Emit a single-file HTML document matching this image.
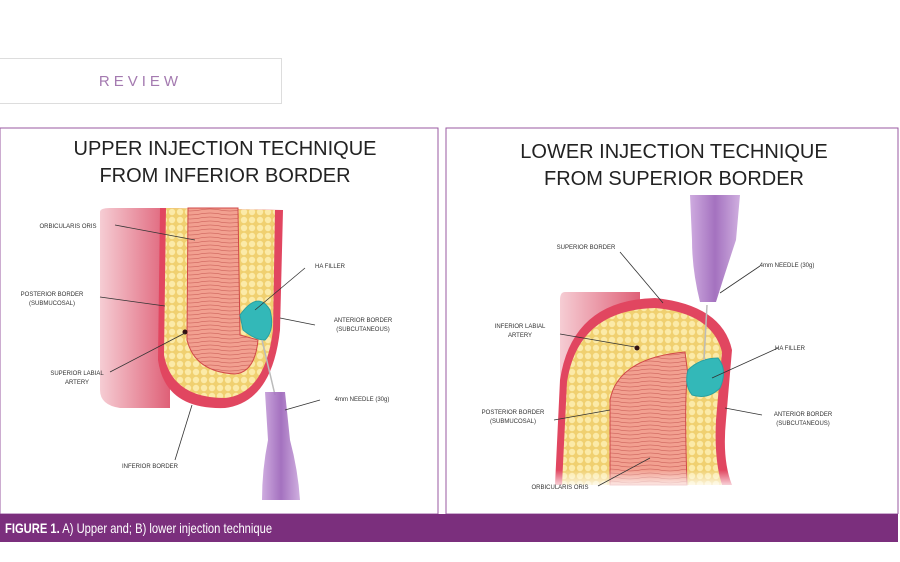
<!DOCTYPE html>
<html><head><style>
body{margin:0;width:900px;height:562px;background:#fff;position:relative;overflow:hidden;font-family:"Liberation Sans",sans-serif}
.rev{position:absolute;left:-1px;top:58px;width:283px;height:46px;border:1px solid #ddd;box-sizing:border-box;color:#a47ab0;font-size:15px;letter-spacing:4px;text-align:center;line-height:46px}
.cap{position:absolute;left:0;top:514px;width:898px;height:28px;background:#7b2f7d;color:#fff;font-size:14px;line-height:28px;padding-left:5px;box-sizing:border-box}
.cap span{display:inline-block;transform:scaleX(.8);transform-origin:left}
</style></head><body>
<div class="rev">REVIEW</div>
<svg width="900" height="514" style="position:absolute;left:0;top:0" font-family="Liberation Sans, sans-serif">
<defs>
<linearGradient id="pk" x1="0" x2="1"><stop offset="0" stop-color="#f4c4cc"/><stop offset="1" stop-color="#d9445f"/></linearGradient>
<pattern id="fat" width="8" height="8" patternUnits="userSpaceOnUse"><rect width="8" height="8" fill="#f0d070"/><circle cx="4" cy="4" r="3.2" fill="#fbeaa8"/></pattern>
<pattern id="mus" width="40" height="4" patternUnits="userSpaceOnUse"><rect width="40" height="4" fill="#f2a090"/><path d="M0,2 Q10,0 20,2 T40,2" stroke="#c65550" stroke-width=".6" fill="none"/></pattern>
<linearGradient id="nd" x1="0" x2="1"><stop offset="0" stop-color="#c9a2dc"/><stop offset=".5" stop-color="#9a62b8"/><stop offset="1" stop-color="#caa6dc"/></linearGradient>
<linearGradient id="fade" x1="0" y1="0" x2="0" y2="1"><stop offset="0" stop-color="#fff" stop-opacity="0"/><stop offset="1" stop-color="#fff" stop-opacity="1"/></linearGradient>
</defs>
<rect x="0" y="128" width="438" height="386" fill="#fff" stroke="#9a5aa0" stroke-width="1"/>
<rect x="446" y="128" width="452" height="386" fill="#fff" stroke="#9a5aa0" stroke-width="1"/>
<g font-size="20" fill="#222" text-anchor="middle">
<text x="225" y="155">UPPER INJECTION TECHNIQUE</text>
<text x="225" y="182">FROM INFERIOR BORDER</text>
<text x="674" y="158">LOWER INJECTION TECHNIQUE</text>
<text x="674" y="185">FROM SUPERIOR BORDER</text>
</g>
<!-- left illustration -->
<path d="M100,212 Q100,208 110,208 L170,208 L170,408 L120,408 Q100,405 100,390 Z" fill="url(#pk)" opacity=".85"/>
<path d="M160,208 L158,360 Q165,410 225,408 Q272,402 280,330 L283,210 Z" fill="#e14660"/>
<path d="M166,208 L164,355 Q172,398 225,398 Q265,394 273,330 L275,210 Z" fill="url(#fat)"/>
<path d="M188,208 L187,340 Q195,372 235,374 Q255,372 258,340 L240,335 L238,208 Z" fill="url(#mus)" stroke="#d04848" stroke-width="1"/>
<path d="M240,315 Q258,290 270,310 Q275,330 265,340 Q255,340 243,330 Z" fill="#33b8b8" stroke="#2aa0a0"/>
<circle cx="185" cy="332" r="2.5" fill="#311"/>
<line x1="262" y1="340" x2="275" y2="395" stroke="#bbb" stroke-width="1.5"/>
<path d="M265,392 L285,392 L290,440 Q298,470 300,500 L262,500 Q262,470 268,440 Z" fill="url(#nd)" opacity=".9"/>
<!-- right illustration -->
<path d="M565,292 L640,292 L640,485 L565,485 Q560,485 560,475 L560,300 Q560,292 565,292 Z" fill="url(#pk)" opacity=".85"/>
<path d="M555,485 L560,380 Q572,300 655,298 Q722,305 732,350 L726,420 Q722,460 732,485 Z" fill="#e14660"/>
<path d="M562,485 L567,382 Q578,310 655,308 Q712,313 722,352 L716,420 Q714,460 722,485 Z" fill="url(#fat)"/>
<path d="M610,485 L610,400 Q618,358 685,352 L688,375 Q684,390 687,485 Z" fill="url(#mus)" stroke="#d04848" stroke-width="1"/>
<rect x="550" y="470" width="190" height="20" fill="url(#fade)"/>
<path d="M688,370 Q700,358 718,358 Q728,370 720,388 Q708,400 692,395 Q684,385 688,370 Z" fill="#33b8b8" stroke="#2aa0a0"/>
<circle cx="637" cy="348" r="2.5" fill="#311"/>
<line x1="707" y1="305" x2="704" y2="360" stroke="#bbb" stroke-width="1.5"/>
<path d="M690,195 L740,195 L736,240 Q726,270 716,302 L700,302 Q692,270 692,240 Z" fill="url(#nd)" opacity=".9"/>
<!-- leader lines -->
<g stroke="#333" stroke-width=".8" fill="none">
<line x1="115" y1="225" x2="195" y2="240"/>
<line x1="100" y1="297" x2="165" y2="306"/>
<line x1="110" y1="372" x2="185" y2="333"/>
<line x1="305" y1="268" x2="255" y2="310"/>
<line x1="315" y1="325" x2="280" y2="318"/>
<line x1="320" y1="400" x2="285" y2="410"/>
<line x1="175" y1="460" x2="192" y2="405"/>
<line x1="620" y1="252" x2="663" y2="303"/>
<line x1="560" y1="334" x2="635" y2="347"/>
<line x1="760" y1="266" x2="720" y2="293"/>
<line x1="778" y1="348" x2="712" y2="378"/>
<line x1="762" y1="415" x2="725" y2="408"/>
<line x1="554" y1="420" x2="610" y2="410"/>
<line x1="598" y1="486" x2="650" y2="458"/>
</g>
<g font-size="6" fill="#333" text-anchor="middle">
<text x="68" y="228">ORBICULARIS ORIS</text>
<text x="52" y="296">POSTERIOR BORDER</text><text x="52" y="305">(SUBMUCOSAL)</text>
<text x="77" y="375">SUPERIOR LABIAL</text><text x="77" y="384">ARTERY</text>
<text x="330" y="268">HA FILLER</text>
<text x="363" y="322">ANTERIOR BORDER</text><text x="363" y="331">(SUBCUTANEOUS)</text>
<text x="362" y="401">4mm NEEDLE (30g)</text>
<text x="150" y="468">INFERIOR BORDER</text>
<text x="586" y="249">SUPERIOR BORDER</text>
<text x="787" y="267">4mm NEEDLE (30g)</text>
<text x="520" y="328">INFERIOR LABIAL</text><text x="520" y="337">ARTERY</text>
<text x="790" y="350">HA FILLER</text>
<text x="803" y="416">ANTERIOR BORDER</text><text x="803" y="425">(SUBCUTANEOUS)</text>
<text x="513" y="414">POSTERIOR BORDER</text><text x="513" y="423">(SUBMUCOSAL)</text>
<text x="560" y="489">ORBICULARIS ORIS</text>
</g>
</svg>
<div class="cap"><span><b>FIGURE 1.</b> A) Upper and; B) lower injection technique</span></div>
</body></html>
